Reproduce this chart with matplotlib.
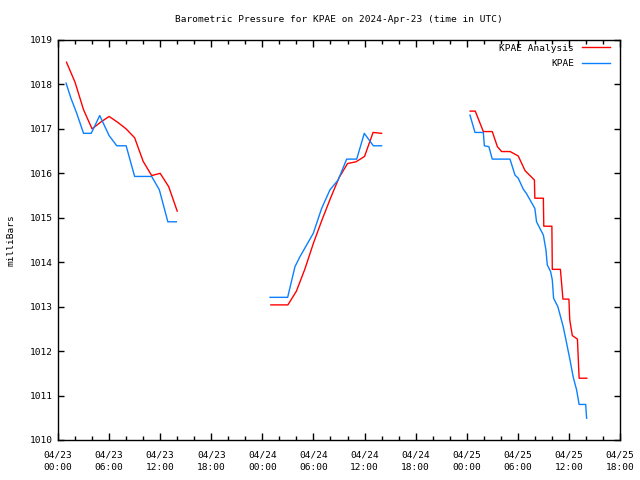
import numpy as np
import pandas as pd
import matplotlib
matplotlib.use("Agg")
import matplotlib.pyplot as plt
import matplotlib.dates as mdates

plt.rcParams['font.family'] = ['DejaVu Sans Mono']

start = pd.Timestamp("2024-04-23 00:00")
nan = np.nan

# hours since 2024-04-23 00:00 UTC, pressure in mb (nan = data gap)
analysis_hours = [1, 2, 3, 4, 5, 6, 7, 8, 9, 10, 11, 12, 13, 14, nan,
                  25, 26, 27, 28, 29, 30, 31, 32, 33, 34, 35, 36, 37, 38, nan,
                  48.4, 49.0, 49.95, 51.0, 51.6, 52.1, 53.1, 54.05, 54.85, 55.95, 56.0,
                  57.0, 57.05, 58.0, 58.05, 59.0, 59.3, 60.0, 60.1, 60.4, 61.0, 61.2, 62.1]
analysis_mb = [1018.5, 1018.05, 1017.43, 1017.0, 1017.15, 1017.28, 1017.15, 1017.0, 1016.8,
               1016.27, 1015.95, 1016.0, 1015.7, 1015.15, nan,
               1013.04, 1013.04, 1013.04, 1013.35, 1013.85, 1014.43, 1014.95, 1015.44,
               1015.9, 1016.22, 1016.26, 1016.38, 1016.92, 1016.9, nan,
               1017.40, 1017.40, 1016.94, 1016.94, 1016.6, 1016.49, 1016.49, 1016.39,
               1016.06, 1015.85, 1015.44, 1015.44, 1014.81, 1014.81, 1013.84, 1013.84,
               1013.17, 1013.17, 1012.7, 1012.35, 1012.27, 1011.39, 1011.39]

obs_hours = [0.95, 1.5, 2.2, 3.0, 3.9, 4.9, 6.0, 6.9, 8.0, 9.0, 11.0, 11.9, 12.9, 13.9, nan,
             24.9, 26.97, 27.83, 28.4, 29.98, 30.96, 31.94, 32.9, 33.9, 35.08, 35.97, 37.03, 38.0, nan,
             48.38, 48.97, 49.95, 50.07, 50.6, 51.0, 53.08, 53.67, 54.05, 54.65, 55.0, 56.0,
             56.2, 57.0, 57.3, 57.46, 57.85, 58.05, 58.2, 58.7, 59.33, 59.73, 60.13, 60.5,
             60.9, 61.2, 61.97, 62.08]
obs_mb = [1018.03, 1017.7, 1017.35, 1016.9, 1016.9, 1017.3, 1016.85, 1016.62, 1016.62,
          1015.93, 1015.93, 1015.63, 1014.91, 1014.91, nan,
          1013.21, 1013.21, 1013.9, 1014.12, 1014.65, 1015.21, 1015.63, 1015.85, 1016.32,
          1016.32, 1016.9, 1016.62, 1016.62, nan,
          1017.31, 1016.92, 1016.92, 1016.62, 1016.6, 1016.32, 1016.32, 1015.96, 1015.89,
          1015.64, 1015.55, 1015.21, 1014.91, 1014.61, 1014.28, 1013.94, 1013.79, 1013.6,
          1013.19, 1013.0, 1012.55, 1012.18, 1011.8, 1011.42, 1011.13, 1010.8, 1010.8, 1010.49]


def segments(hours, values):
    h = np.asarray(hours, dtype=float)
    v = np.asarray(values, dtype=float)
    breaks = np.where(np.isnan(h))[0]
    bounds = [-1] + list(breaks) + [len(h)]
    out = []
    for a, b in zip(bounds[:-1], bounds[1:]):
        hh, vv = h[a + 1:b], v[a + 1:b]
        if len(hh):
            times = (start + pd.to_timedelta(hh, unit='h')).to_pydatetime()
            out.append((times, vv))
    return out


FS = 6.8
fig = plt.figure(figsize=(6.4, 4.8), dpi=100)
ax = fig.add_axes([58/640, 40/480, 562/640, 400/480])

for i, (t, v) in enumerate(segments(analysis_hours, analysis_mb)):
    ax.plot(t, v, color='#ff0000', lw=1.0, label='KPAE Analysis' if i == 0 else None)
for i, (t, v) in enumerate(segments(obs_hours, obs_mb)):
    ax.plot(t, v, color='#0a80ff', lw=1.0, label='KPAE' if i == 0 else None)

ax.set_xlim(start.to_pydatetime(), (start + pd.Timedelta(hours=66)).to_pydatetime())
ax.set_ylim(1010, 1019)
ax.set_yticks(np.arange(1010, 1020, 1))
ax.xaxis.set_major_locator(mdates.HourLocator(byhour=[0, 6, 12, 18]))
ax.xaxis.set_minor_locator(mdates.HourLocator(byhour=range(0, 24, 2)))
ax.xaxis.set_major_formatter(mdates.DateFormatter('%m/%d\n%H:%M'))

ax.tick_params(axis='x', which='major', direction='in', length=5, width=1, top=True,
               labelsize=FS, pad=7.5)
ax.tick_params(axis='x', which='minor', direction='in', length=3, width=1, top=True)
ax.tick_params(axis='y', which='major', direction='in', length=4, width=1, right=True,
               labelsize=FS, pad=4)
for lab in ax.get_xticklabels():
    lab.set_linespacing(1.5)
for s in ax.spines.values():
    s.set_linewidth(1.0)

ax.set_title('Barometric Pressure for KPAE on 2024-Apr-23 (time in UTC)', fontsize=FS, pad=13)
ax.set_ylabel('milliBars', fontsize=FS, labelpad=10)

ax.legend(loc='upper right', bbox_to_anchor=(0.993, 1.006), frameon=False, markerfirst=False,
          fontsize=FS, handlelength=3.0, handletextpad=0.8, labelspacing=0.65,
          borderaxespad=0.25, borderpad=0.4)

fig.savefig('out.png', dpi=100)
